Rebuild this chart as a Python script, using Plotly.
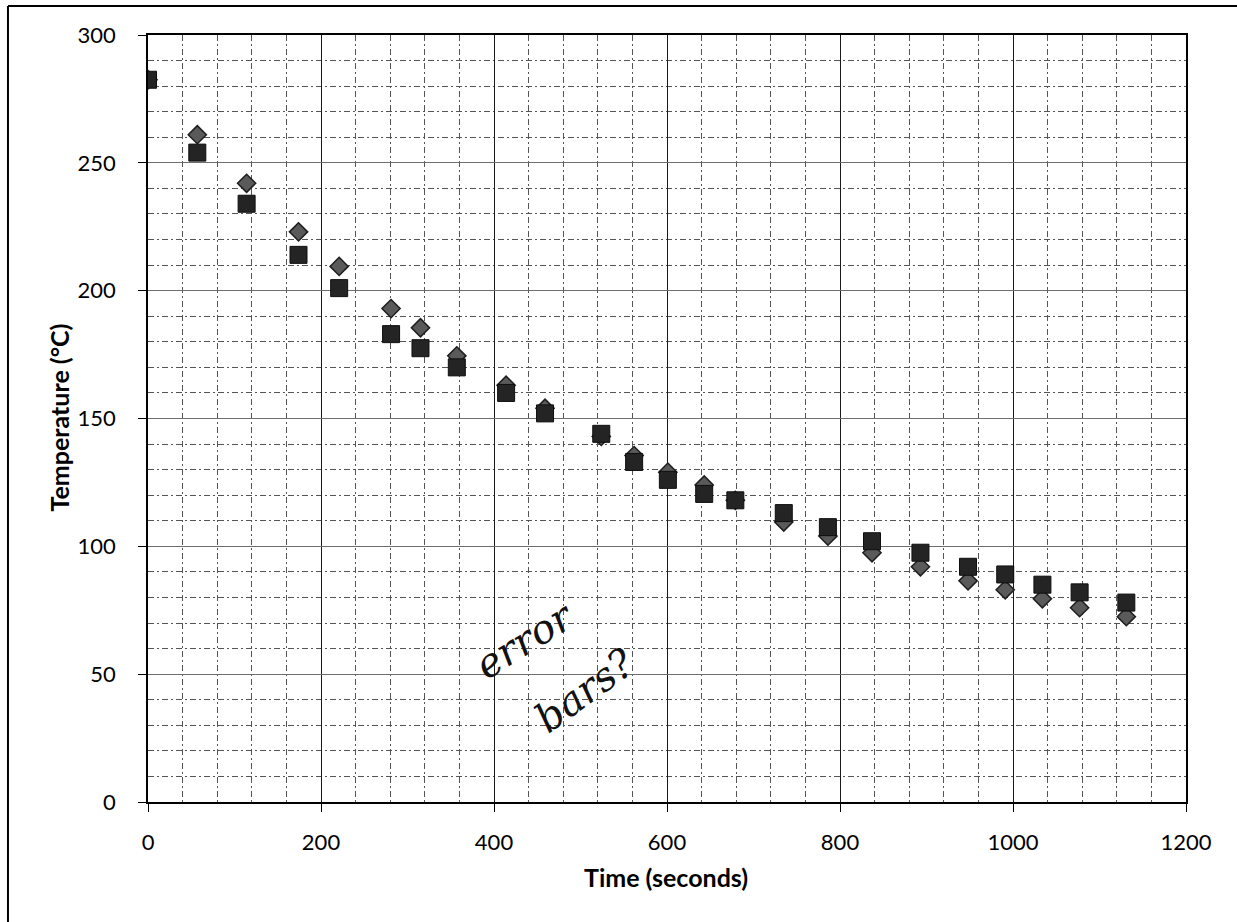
import plotly.graph_objects as go

# Cooling run: time (s) and the two temperature readings (°C)
time_s = [0, 57, 114, 174, 221, 281, 315, 357, 414, 459, 524, 562,
          601, 643, 679, 735, 786, 837, 893, 948, 991, 1034, 1077, 1131]
temp_diamond = [282.5, 261, 242, 223, 209.5, 193, 185.5, 174.5, 163, 154, 143, 135.5,
                129, 124, 118, 109.5, 104, 97.5, 92, 86.5, 83, 79.5, 76, 72.5]
temp_square = [282.5, 254, 234, 214, 201, 183, 177.5, 170, 160, 152, 144, 133,
               126, 120.5, 118, 113, 107.5, 102, 97.5, 92, 89, 85, 82, 78]

x_ticks = [0, 200, 400, 600, 800, 1000, 1200]
y_ticks = [0, 50, 100, 150, 200, 250, 300]

FONT = "Lato"

fig = go.Figure()
fig.add_trace(go.Scatter(
    x=time_s, y=temp_diamond, mode="markers", name="Series 1",
    marker=dict(symbol="diamond", size=14, color="#5a5a5a",
                line=dict(color="#1e1e1e", width=1.5)),
))
fig.add_trace(go.Scatter(
    x=time_s, y=temp_square, mode="markers", name="Series 2",
    marker=dict(symbol="square", size=17, color="#242424",
                line=dict(color="#0e0e0e", width=1)),
))

minor_grid = dict(showgrid=True, gridcolor="#555555", gridwidth=1,
                  griddash="6px,3px,2px,3px")

fig.update_xaxes(
    range=[0, 1200], tickvals=x_ticks, ticktext=[str(v) for v in x_ticks],
    showline=True, linecolor="#000000", linewidth=1.6, mirror=True,
    ticks="outside", ticklen=8, tickcolor="#000000", ticklabelstandoff=12,
    tickfont=dict(family=FONT, size=22, color="#000000"),
    zeroline=False, showgrid=True, gridcolor="#1a1a1a", gridwidth=1.4,
    minor=dict(dtick=40, tick0=0, **minor_grid),
)
fig.update_yaxes(
    range=[0, 300], tickvals=y_ticks, ticktext=[str(v) for v in y_ticks],
    showline=True, linecolor="#000000", linewidth=1.6, mirror=True,
    ticks="outside", ticklen=8, tickcolor="#000000", ticklabelstandoff=18,
    tickfont=dict(family=FONT, size=22, color="#000000"),
    zeroline=False, showgrid=True, gridcolor="#6e6e6e", gridwidth=1.3,
    minor=dict(dtick=10, tick0=0, **minor_grid),
)

annotations = [
    dict(text="<b>Time (seconds)</b>", x=0.499, y=-0.0978, xref="paper", yref="paper",
         showarrow=False, font=dict(family=FONT, size=25, color="#000000"),
         xanchor="center", yanchor="middle"),
    dict(text="<b>Temperature (°C)</b>", x=-0.0862, y=0.5007, xref="paper", yref="paper",
         showarrow=False, textangle=-90, font=dict(family=FONT, size=25, color="#000000"),
         xanchor="center", yanchor="middle"),
    # handwritten note on the sheet
    dict(text="<i>error</i>", x=0.363, y=0.211, xref="paper", yref="paper",
         showarrow=False, textangle=-32, font=dict(family="DejaVu Serif", size=40, color="#111111"),
         xanchor="center", yanchor="middle"),
    dict(text="<i>bars?</i>", x=0.421, y=0.146, xref="paper", yref="paper",
         showarrow=False, textangle=-36, font=dict(family="DejaVu Serif", size=40, color="#111111"),
         xanchor="center", yanchor="middle"),
]

# chart-area frame (left and top edges visible)
shapes = [
    dict(type="line", xref="paper", yref="paper", x0=-0.1349, x1=-0.1349, y0=-0.2, y1=1.0378,
         line=dict(color="#000000", width=2)),
    dict(type="line", xref="paper", yref="paper", x0=-0.1349, x1=1.1, y0=1.0378, y1=1.0378,
         line=dict(color="#000000", width=2)),
]

fig.update_layout(
    width=1237, height=922,
    margin=dict(l=148, r=51, t=35, b=120),
    paper_bgcolor="#ffffff", plot_bgcolor="#ffffff",
    showlegend=False,
    annotations=annotations, shapes=shapes,
)

fig.write_html("out.html", config={"displayModeBar": False})
